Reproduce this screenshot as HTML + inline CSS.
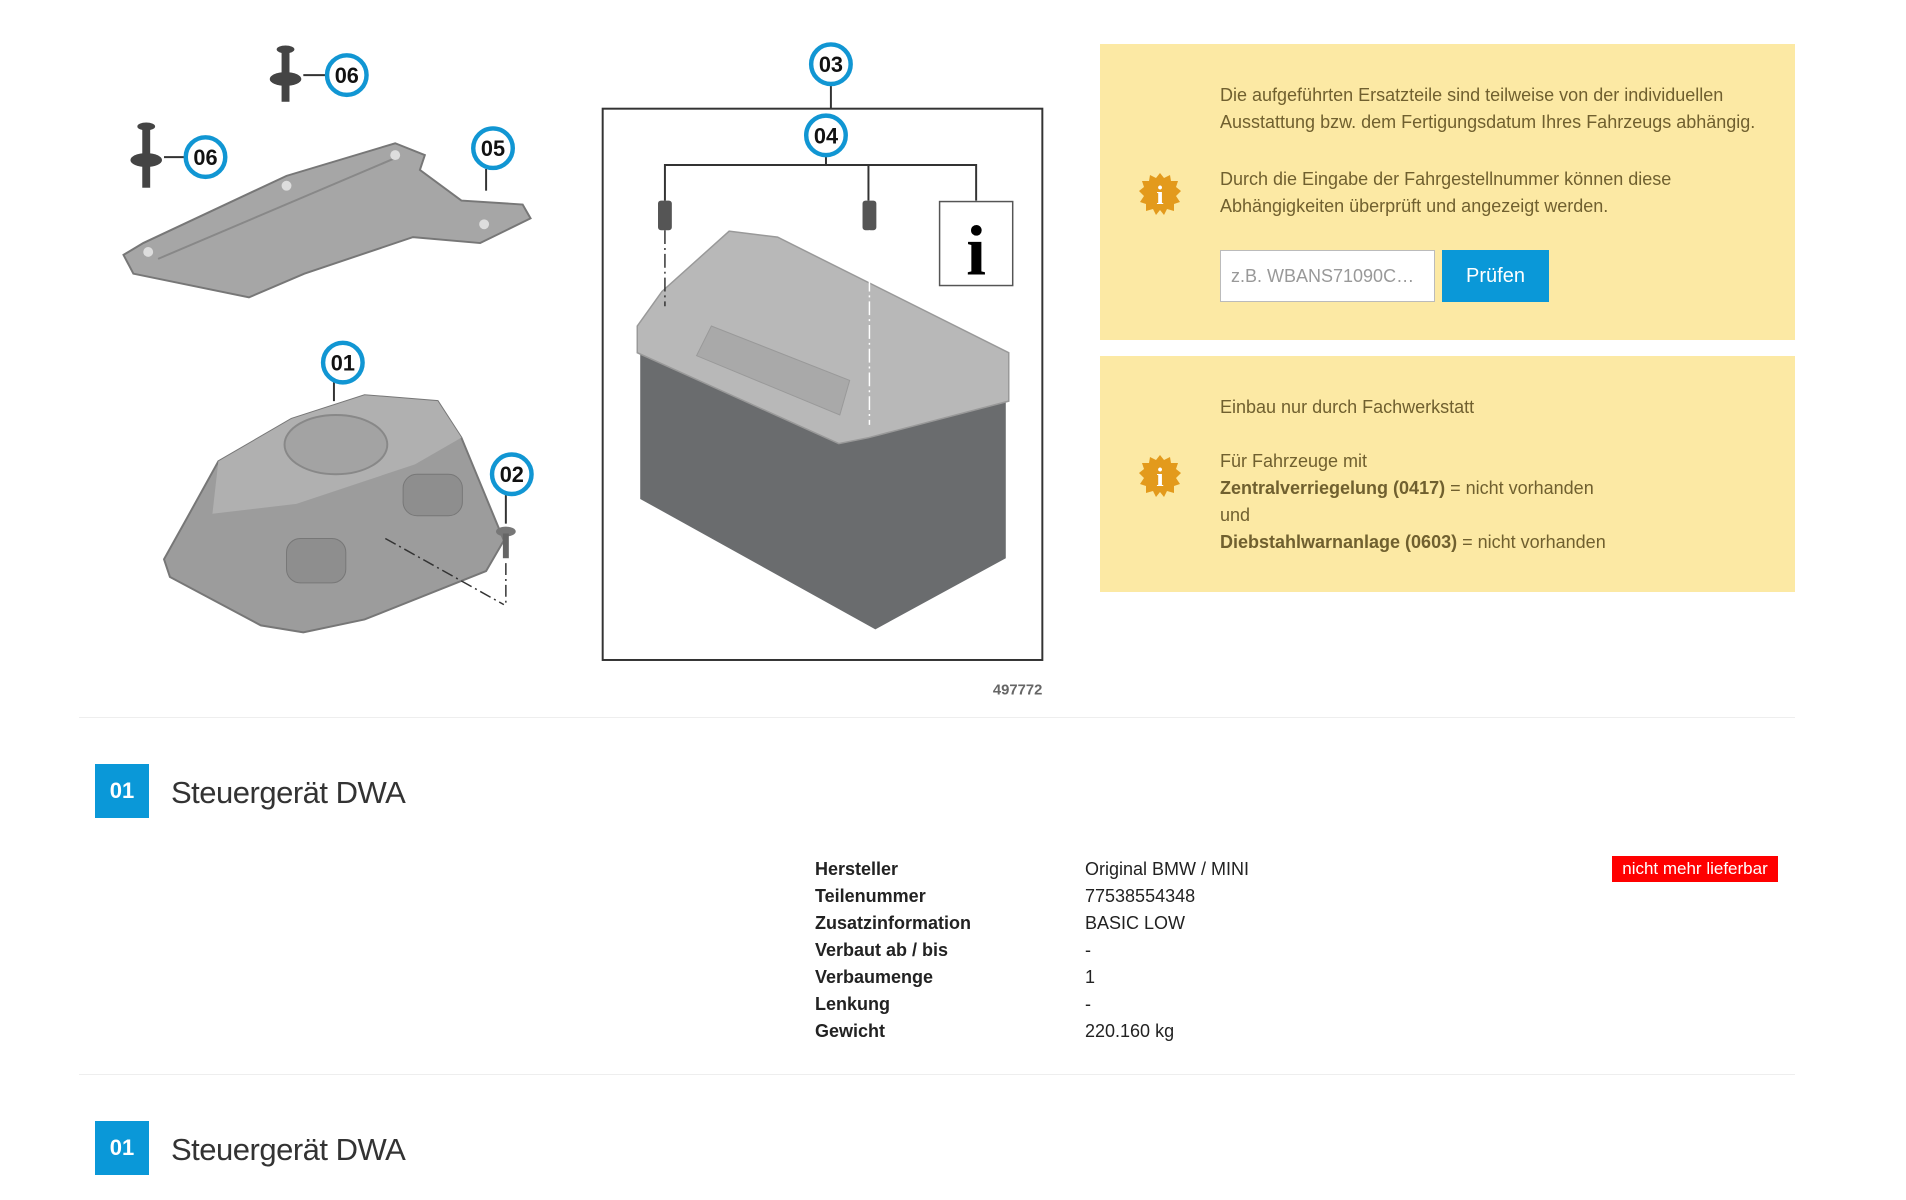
<!DOCTYPE html>
<html><head><meta charset="utf-8"><style>
body{margin:0;width:1906px;height:1200px;background:#fff;font-family:"Liberation Sans",Arial,sans-serif;position:relative;overflow:hidden}
.abs{position:absolute}
.box{position:absolute;left:1100px;width:695px;background:#fce9a4}
.t{position:absolute;left:120px;color:#70602f;font-size:18px;line-height:27px}
.icon{position:absolute;left:38px;width:44px;height:44px}
.lbl{position:absolute;left:815px;font-weight:bold;font-size:18px;color:#222}
.val{position:absolute;left:1085px;font-size:18px;color:#222}
.sq{position:absolute;left:95px;width:54px;height:54px;background:#0a98d8;color:#fff;font-weight:bold;font-size:22px;text-align:center;line-height:54px}
.ttl{position:absolute;left:171px;font-size:31px;color:#333;letter-spacing:-0.5px}
</style></head><body>
<svg class="abs" style="left:0;top:0" width="1100" height="720" viewBox="0 0 1100 720">
<g transform="scale(0.988)">
<polygon points="125,258 145,246 290,178 400,145 430,157 425,172 467,203 529,207 537,221 486,246 418,240 308,277 252,301 135,277" fill="#a6a6a6" stroke="#777" stroke-width="2"/>
<line x1="160" y1="262" x2="400" y2="160" stroke="#888" stroke-width="2"/>
<circle cx="150" cy="255" r="5" fill="#ddd"/><circle cx="290" cy="188" r="5" fill="#ddd"/><circle cx="400" cy="157" r="5" fill="#ddd"/><circle cx="490" cy="227" r="5" fill="#ddd"/>
<g fill="#444"><rect x="285" y="48" width="8" height="55"/><ellipse cx="289" cy="50" rx="9" ry="4"/><ellipse cx="289" cy="80" rx="16" ry="7"/>
<rect x="144" y="128" width="8" height="62"/><ellipse cx="148" cy="128" rx="9" ry="4"/><ellipse cx="148" cy="162" rx="16" ry="7"/></g>
<line x1="307" y1="76" x2="330" y2="76" stroke="#333" stroke-width="2"/>
<line x1="166" y1="159" x2="187" y2="159" stroke="#333" stroke-width="2"/>
<line x1="492" y1="171" x2="492" y2="193" stroke="#333" stroke-width="2"/>
<polygon points="166,566 190,523 221,467 295,424 369,400 443,406 467,443 510,547 492,578 369,627 307,640 264,633 172,584" fill="#9c9c9c" stroke="#777" stroke-width="2"/>
<polygon points="221,467 295,424 369,400 443,406 467,443 420,470 300,510 215,520" fill="#b0b0b0"/>
<ellipse cx="340" cy="450" rx="52" ry="30" fill="#a3a3a3" stroke="#888" stroke-width="2"/>
<rect x="290" y="545" width="60" height="45" rx="14" fill="#8e8e8e" stroke="#777"/>
<rect x="408" y="480" width="60" height="42" rx="14" fill="#8e8e8e" stroke="#777"/>
<line x1="338" y1="386" x2="338" y2="406" stroke="#333" stroke-width="2"/>
<ellipse cx="512" cy="538" rx="10" ry="5" fill="#777"/><rect x="509" y="540" width="6" height="25" fill="#666"/>
<line x1="512" y1="500" x2="512" y2="530" stroke="#333" stroke-width="2"/>
<line x1="390" y1="545" x2="510" y2="612" stroke="#333" stroke-width="1.5" stroke-dasharray="12,4,2,4"/>
<line x1="512" y1="570" x2="512" y2="612" stroke="#333" stroke-width="1.5" stroke-dasharray="12,4,2,4"/>
<rect x="610" y="110" width="445" height="558" fill="none" stroke="#333" stroke-width="2"/>
<line x1="841" y1="86" x2="841" y2="110" stroke="#333" stroke-width="2"/>
<polyline points="673,203 673,167 988,167 988,203" fill="none" stroke="#333" stroke-width="2"/>
<line x1="836" y1="158" x2="836" y2="167" stroke="#333" stroke-width="2"/>
<line x1="879" y1="167" x2="879" y2="203" stroke="#333" stroke-width="2"/>
<rect x="951" y="204" width="74" height="85" fill="#fff" stroke="#555" stroke-width="1.5"/>
<text x="988" y="278" font-family="Liberation Serif,serif" font-weight="bold" font-size="72" text-anchor="middle" fill="#000">i</text>
<polygon points="648,357 648,505 886,637 1018,565 1018,406 879,443" fill="#6a6c6e"/>
<polygon points="645,330 670,295 738,234 787,240 1021,357 1021,406 879,443 849,449 645,357" fill="#b8b8b8" stroke="#999" stroke-width="1.5"/>
<polygon points="705,360 720,330 860,385 850,420" fill="#a9a9a9" stroke="#999"/>
<g fill="#555"><rect x="666" y="203" width="14" height="30" rx="3"/><rect x="873" y="203" width="14" height="30" rx="3"/></g>
<line x1="673" y1="233" x2="673" y2="310" stroke="#333" stroke-width="1.5" stroke-dasharray="14,4,2,4"/>
<line x1="880" y1="233" x2="880" y2="430" stroke="#fff" stroke-width="1.5" stroke-dasharray="14,4,2,4"/>
<text x="1055" y="703" font-size="15" font-weight="bold" fill="#666" text-anchor="end">497772</text>
<g fill="#fff" stroke="#1196d3" stroke-width="4.5">
<circle cx="351" cy="76" r="20"/><circle cx="208" cy="159" r="20"/><circle cx="499" cy="150" r="20"/>
<circle cx="347" cy="367" r="20"/><circle cx="518" cy="480" r="20"/><circle cx="841" cy="65" r="20"/><circle cx="836" cy="137" r="20"/></g>
<g font-size="22" font-weight="bold" fill="#111" text-anchor="middle">
<text x="351" y="84">06</text><text x="208" y="167">06</text><text x="499" y="158">05</text>
<text x="347" y="375">01</text><text x="518" y="488">02</text><text x="841" y="73">03</text><text x="836" y="145">04</text></g>
</g>
</svg>

<div class="box" style="top:44px;height:296px">
 <svg class="icon" style="top:128px" viewBox="0 0 44 44"><polygon points="22,1 26,6 32,3 33,9 40,9 38,15 43,19 38,24 42,30 36,32 36,39 29,37 26,43 22,38 18,43 15,37 8,39 8,32 2,30 6,24 1,19 6,15 4,9 11,9 12,3 18,6" fill="#e39a1c"/><text x="22" y="32" text-anchor="middle" font-family="Liberation Serif,serif" font-weight="bold" font-size="26" fill="#fff">i</text></svg>
 <div class="t" style="top:38px">Die aufgeführten Ersatzteile sind teilweise von der individuellen<br>Ausstattung bzw. dem Fertigungsdatum Ihres Fahrzeugs abhängig.</div>
 <div class="t" style="top:122px">Durch die Eingabe der Fahrgestellnummer können diese<br>Abhängigkeiten überprüft und angezeigt werden.</div>
 <div class="abs" style="left:120px;top:206px;width:215px;height:52px;background:#fff;border:1px solid #bbb;box-sizing:border-box;color:#999;font-size:18px;line-height:50px;padding-left:10px">z.B. WBANS71090C…</div>
 <div class="abs" style="left:342px;top:206px;width:107px;height:52px;background:#0a98d8;color:#fff;font-size:20px;line-height:52px;text-align:center">Prüfen</div>
</div>
<div class="box" style="top:356px;height:236px">
 <svg class="icon" style="top:98px" viewBox="0 0 44 44"><polygon points="22,1 26,6 32,3 33,9 40,9 38,15 43,19 38,24 42,30 36,32 36,39 29,37 26,43 22,38 18,43 15,37 8,39 8,32 2,30 6,24 1,19 6,15 4,9 11,9 12,3 18,6" fill="#e39a1c"/><text x="22" y="32" text-anchor="middle" font-family="Liberation Serif,serif" font-weight="bold" font-size="26" fill="#fff">i</text></svg>
 <div class="t" style="top:38px">Einbau nur durch Fachwerkstatt</div>
 <div class="t" style="top:92px">Für Fahrzeuge mit<br><b>Zentralverriegelung (0417)</b> = nicht vorhanden<br>und<br><b>Diebstahlwarnanlage (0603)</b> = nicht vorhanden</div>
</div>

<div class="abs" style="left:79px;top:717px;width:1716px;height:1px;background:#eee"></div>
<div class="sq" style="top:764px">01</div><div class="ttl" style="top:775px">Steuergerät DWA</div>
<div class="lbl" style="top:859px">Hersteller</div><div class="val" style="top:859px">Original BMW / MINI</div>
<div class="lbl" style="top:886px">Teilenummer</div><div class="val" style="top:886px">77538554348</div>
<div class="lbl" style="top:913px">Zusatzinformation</div><div class="val" style="top:913px">BASIC LOW</div>
<div class="lbl" style="top:940px">Verbaut ab / bis</div><div class="val" style="top:940px">-</div>
<div class="lbl" style="top:967px">Verbaumenge</div><div class="val" style="top:967px">1</div>
<div class="lbl" style="top:994px">Lenkung</div><div class="val" style="top:994px">-</div>
<div class="lbl" style="top:1021px">Gewicht</div><div class="val" style="top:1021px">220.160 kg</div>
<div class="abs" style="left:1612px;top:856px;width:166px;height:26px;background:#f00;color:#fff;font-size:17px;line-height:26px;text-align:center">nicht mehr lieferbar</div>
<div class="abs" style="left:79px;top:1074px;width:1716px;height:1px;background:#eee"></div>
<div class="sq" style="top:1121px">01</div><div class="ttl" style="top:1132px">Steuergerät DWA</div>
</body></html>
